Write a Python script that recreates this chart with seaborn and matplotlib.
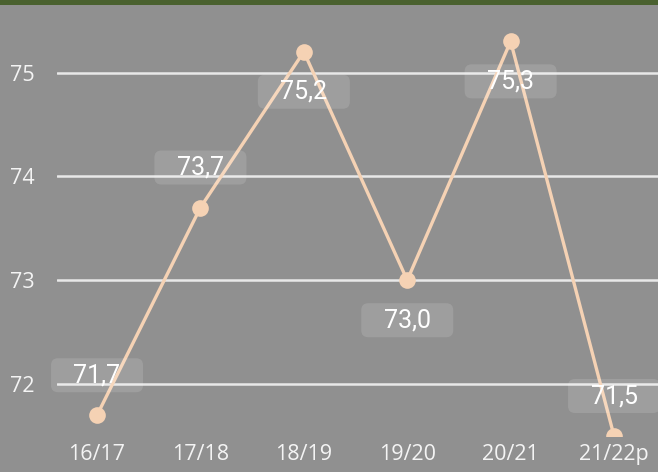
import matplotlib
matplotlib.use("Agg")
import matplotlib.pyplot as plt
import matplotlib.transforms as mtransforms
from matplotlib.patches import FancyBboxPatch, Rectangle
import seaborn as sns
import pandas as pd

seasons = ["16/17", "17/18", "18/19", "19/20", "20/21", "21/22p"]
values = [71.7, 73.7, 75.2, 73.0, 75.3, 71.5]
labels = ["71,7", "73,7", "75,2", "73,0", "75,3", "71,5"]
label_side = [1, 1, -1, -1, -1, 1]  # 1 = above point, -1 = below
yticks = [72, 73, 74, 75]

BG = "#909090"
LINE = "#f5d2b4"

sns.set_theme(style="white")
plt.rcParams["font.family"] = ["Open Sans", "DejaVu Sans"]

fig = plt.figure(figsize=(6.58, 4.72), dpi=100, facecolor=BG)
ax = fig.add_axes([57 / 658, 1 - 436 / 472, 1 - 57 / 658, 431 / 472])
ax.set_facecolor(BG)

df = pd.DataFrame({"x": range(len(seasons)), "y": values})
sns.lineplot(data=df, x="x", y="y", ax=ax, color=LINE, linewidth=2.4,
             marker="o", markersize=12, markeredgewidth=0, zorder=5)

ax.set_xlim(-0.387, 5.425)
ax.set_ylim(71.5, 75.65)
ax.set_xticks(range(len(seasons)))
ax.set_xticklabels(seasons)
ax.set_yticks(yticks)
ax.set_yticklabels([str(t) for t in yticks])
ax.set_xlabel("")
ax.set_ylabel("")
for s in ax.spines.values():
    s.set_visible(False)
ax.tick_params(axis="both", length=0, labelsize=15.5, colors="#f4f4f4")
ax.tick_params(axis="y", pad=16)
ax.tick_params(axis="x", pad=6)
for t in ax.get_yticks():
    ax.axhline(t, color="#e8e8e8", linewidth=1.8, zorder=1)

# label boxes drawn in pixel space
fig.canvas.draw()
ident = mtransforms.IdentityTransform()
for i, (v, lab, side) in enumerate(zip(values, labels, label_side)):
    px, py = ax.transData.transform((i, v))
    cy = py + side * 40
    box = FancyBboxPatch((px - 46, cy - 17), 92, 34,
                         boxstyle="round,pad=0,rounding_size=7",
                         transform=ident, facecolor="white", alpha=0.13,
                         edgecolor="none", zorder=2)
    fig.add_artist(box)
    fig.text(px / 658, cy / 472, lab, ha="center", va="center",
             color="white", fontsize=18, family=["Roboto", "DejaVu Sans"],
             zorder=3)

# green top bar
fig.add_artist(Rectangle((0, 1 - 5 / 472), 1, 5 / 472, transform=fig.transFigure,
                         facecolor="#4a612f", edgecolor="none", zorder=10))

fig.savefig("out.png", dpi=100, facecolor=BG)
